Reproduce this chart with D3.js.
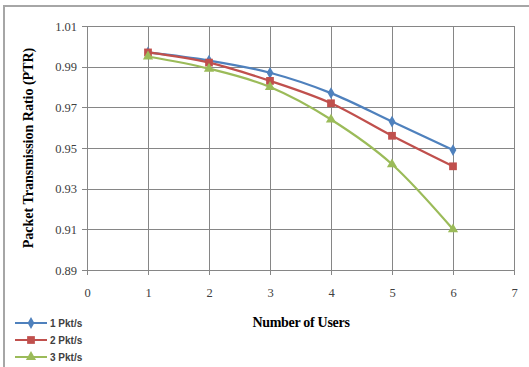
<!DOCTYPE html>
<html>
<head>
<meta charset="utf-8">
<script src="https://cdn.jsdelivr.net/npm/d3@7"></script>
<style>
  html, body { margin: 0; padding: 0; background: #fff; }
  svg { display: block; }
</style>
</head>
<body>
<svg id="chart" width="529" height="367"></svg>
<script>
// Packet transmission ratio versus number of users, per packet rate
const users = [1, 2, 3, 4, 5, 6];
const rate1 = [0.997, 0.993, 0.987, 0.977, 0.963, 0.949];
const rate2 = [0.997, 0.992, 0.983, 0.972, 0.956, 0.941];
const rate3 = [0.995, 0.989, 0.980, 0.964, 0.942, 0.910];
const seriesNames = ["1 Pkt/s", "2 Pkt/s", "3 Pkt/s"];
const xTicks = [0, 1, 2, 3, 4, 5, 6, 7];
const yTicks = [0.89, 0.91, 0.93, 0.95, 0.97, 0.99, 1.01];

const colors = ["#4F81BD", "#C0504D", "#9BBB59"];
const symbols = [d3.symbolDiamond, d3.symbolSquare, d3.symbolTriangle];
const symbolSizes = [40, 60, 45];

const svg = d3.select("#chart");

// chart frame (only top and left edges fall inside the view)
svg.append("rect")
  .attr("x", 4).attr("y", 6)
  .attr("width", 700).attr("height", 500)
  .attr("fill", "none")
  .attr("stroke", "#a6a6a6")
  .attr("stroke-width", 2);

const plotL = 87, plotR = 514, plotT = 26, plotB = 270;
const x = d3.scaleLinear().domain([0, 7]).range([plotL, plotR]);
const y = d3.scaleLinear().domain([0.89, 1.01]).range([plotB, plotT]);

// gridlines
const grid = svg.append("g").attr("stroke", "#868686").attr("stroke-width", 1);
grid.selectAll("line.h").data(yTicks).join("line")
  .attr("class", "h")
  .attr("x1", plotL - 5).attr("x2", plotR)
  .attr("y1", d => Math.round(y(d)) + 0.5).attr("y2", d => Math.round(y(d)) + 0.5);
grid.selectAll("line.v").data(xTicks).join("line")
  .attr("class", "v")
  .attr("x1", d => Math.round(x(d)) + 0.5).attr("x2", d => Math.round(x(d)) + 0.5)
  .attr("y1", plotT).attr("y2", plotB + 5);

// axes (labels only; lines drawn by the grid)
const yAxis = d3.axisLeft(y).tickValues(yTicks).tickFormat(d3.format(".2f")).tickSize(0).tickPadding(10);
const gy = svg.append("g").attr("transform", `translate(${plotL},0)`).call(yAxis);
gy.select(".domain").remove();
gy.selectAll("text")
  .attr("font-family", "Liberation Serif, Times New Roman, serif")
  .attr("font-size", 12.5).attr("fill", "#404040");

const xAxis = d3.axisBottom(x).tickValues(xTicks).tickFormat(d3.format("d")).tickSize(0).tickPadding(18);
const gx = svg.append("g").attr("transform", `translate(0,${plotB})`).call(xAxis);
gx.select(".domain").remove();
gx.selectAll("text")
  .attr("font-family", "Liberation Serif, Times New Roman, serif")
  .attr("font-size", 12.5).attr("fill", "#404040");

// axis titles
svg.append("text")
  .attr("x", 301).attr("y", 327)
  .attr("text-anchor", "middle")
  .attr("font-family", "Liberation Serif, Times New Roman, serif")
  .attr("font-weight", "bold").attr("font-size", 14)
  .attr("letter-spacing", -0.3)
  .attr("fill", "#000")
  .text("Number of Users");

svg.append("text")
  .attr("transform", "translate(33,148) rotate(-90)")
  .attr("text-anchor", "middle")
  .attr("font-family", "Liberation Serif, Times New Roman, serif")
  .attr("font-weight", "bold").attr("font-size", 14)
  .attr("fill", "#000")
  .text("Packet Transmission Ratio (PTR)");

// series
const allSeries = [rate1, rate2, rate3];
const line = d3.line().x(d => x(d[0])).y(d => y(d[1])).curve(d3.curveMonotoneX);

allSeries.forEach((vals, i) => {
  const pts = users.map((u, k) => [u, vals[k]]);
  const g = svg.append("g");
  g.append("path")
    .datum(pts)
    .attr("d", line)
    .attr("fill", "none")
    .attr("stroke", colors[i])
    .attr("stroke-width", 2.25);
  g.selectAll("path.m").data(pts).join("path")
    .attr("class", "m")
    .attr("transform", d => `translate(${x(d[0])},${y(d[1])})`)
    .attr("d", d3.symbol().type(symbols[i]).size(symbolSizes[i]))
    .attr("fill", colors[i]);
});

// legend
const legend = svg.append("g");
seriesNames.forEach((name, i) => {
  const ly = 323 + i * 17;
  legend.append("line")
    .attr("x1", 15).attr("x2", 47)
    .attr("y1", ly).attr("y2", ly)
    .attr("stroke", colors[i]).attr("stroke-width", 2);
  legend.append("path")
    .attr("transform", `translate(31,${ly})`)
    .attr("d", d3.symbol().type(symbols[i]).size(symbolSizes[i]))
    .attr("fill", colors[i]);
  legend.append("text")
    .attr("x", 50).attr("y", ly + 4)
    .attr("font-family", "Liberation Sans, Arial, sans-serif")
    .attr("font-weight", "bold").attr("font-size", 10)
    .attr("fill", "#404040")
    .text(name);
});
</script>
</body>
</html>
